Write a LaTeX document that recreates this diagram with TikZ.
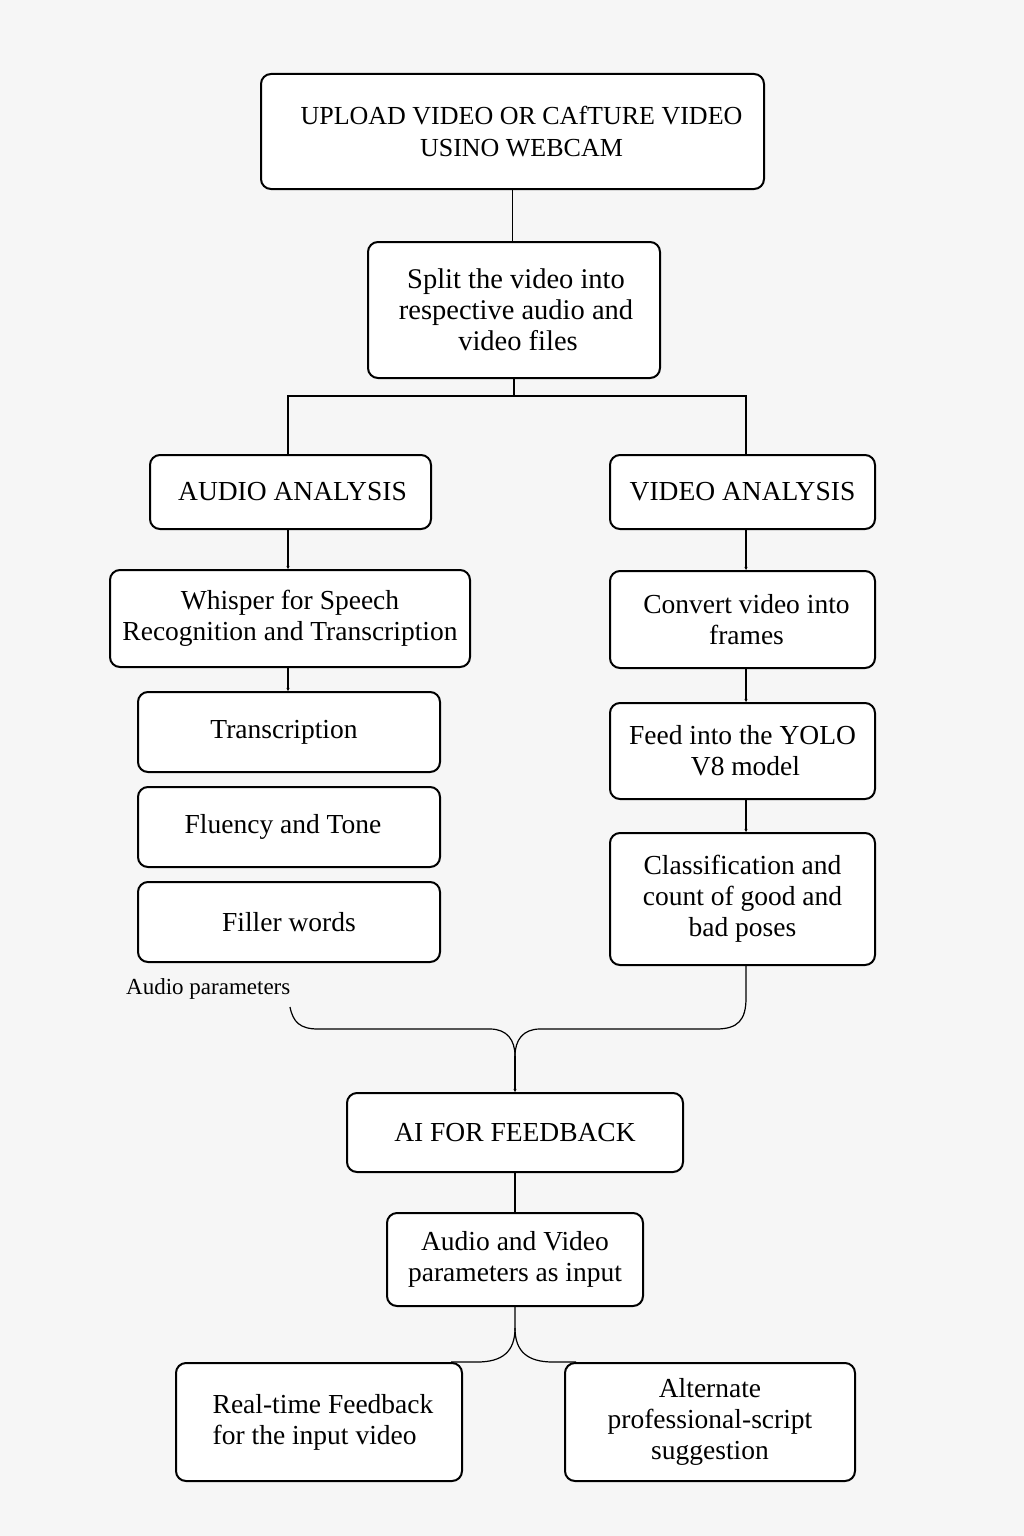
\documentclass[tikz,border=0pt]{standalone}
\usepackage{fontspec}
\setmainfont{Liberation Serif}
\usetikzlibrary{arrows.meta,calc}
\definecolor{bgcol}{HTML}{F6F6F6}
\begin{document}
\begin{tikzpicture}[x=1pt,y=-1pt,
  box/.style={draw=black, fill=white, line width=2pt, rounded corners=10pt,
    align=center, inner sep=2pt, font=\fontsize{27.5}{31}\selectfont},
  conn/.style={line width=1.2pt, draw=black},
  tip/.style={conn, -{Stealth[length=3pt,width=3pt]}}]
\fill[bgcol] (0,0) rectangle (1024,1536);
\useasboundingbox (0,0) rectangle (1024,1536);

\node[box, font=\fontsize{26}{32}\selectfont, minimum width=503pt, minimum height=115pt] (top) at (512.5,131.5)
  {\hspace*{18pt}UPLOAD VIDEO OR CAfTURE VIDEO\\\hspace*{18pt}USINO WEBCAM};
\node[box, font=\fontsize{28.5}{31}\selectfont, minimum width=292pt, minimum height=136pt] (split) at (514,310)
  {\hspace*{4pt}Split the video into\\\hspace*{4pt}respective audio and\\\hspace*{8pt}video files};

\node[box, minimum width=281pt, minimum height=74pt] (audio) at (290.5,492) {\hspace*{4pt}AUDIO ANALYSIS};
\node[box, minimum width=265pt, minimum height=74pt] (video) at (742.5,492) {VIDEO ANALYSIS};

\node[box, minimum width=360pt, minimum height=97pt] (whisper) at (290,618.5)
  {Whisper for Speech\\Recognition and Transcription};
\node[box, minimum width=302pt, minimum height=80pt] (trans) at (289,732) {\hspace*{-10pt}Transcription};
\node[box, minimum width=302pt, minimum height=80pt] (fluency) at (289,827) {\hspace*{-12pt}Fluency and Tone};
\node[box, minimum width=302pt, minimum height=80pt] (filler) at (289,922) {Filler words};
\node[font=\fontsize{23}{26}\selectfont, anchor=west, inner sep=0pt] (aplabel) at (126,989) {Audio parameters};

\node[box, minimum width=265pt, minimum height=97pt] (convert) at (742.5,619.5)
  {\hspace*{8pt}Convert video into\\\hspace*{8pt}frames};
\node[box, minimum width=265pt, minimum height=96pt] (feed) at (742.5,751)
  {Feed into the YOLO\\\hspace*{6pt}V8 model};
\node[box, minimum width=265pt, minimum height=132pt] (classif) at (742.5,899)
  {Classification and\\count of good and\\bad poses};

\node[box, minimum width=336pt, minimum height=79pt] (ai) at (515,1132.5) {AI FOR FEEDBACK};
\node[box, minimum width=256pt, minimum height=93pt] (avp) at (515,1259.5)
  {Audio and Video\\parameters as input};

\node[box, minimum width=286pt, minimum height=118pt, align=left] (rt) at (319,1422)
  {\hspace*{8pt}Real-time Feedback\\\hspace*{8pt}for the input video};
\node[box, minimum width=290pt, minimum height=118pt] (alt) at (710,1422)
  {Alternate\\professional-script\\suggestion};

% connectors
\draw[conn] (top.south) -- (top.south |- split.north);
\coordinate (j1) at (514,396);
\draw[conn] (split.south) -- (j1);
\draw[conn] (j1) -| ($(audio.north)+(-2.5,0)$);
\draw[conn] (j1) -| ($(video.north)+(3.5,0)$);

\draw[tip] ($(audio.south)+(-2.5,0)$) -- ($(audio.south |- whisper.north)+(-2.5,0)$);
\draw[tip] ($(whisper.south)+(-2,0)$) -- ($(whisper.south |- trans.north)+(-2,0)$);

\draw[tip] ($(video.south)+(3.5,0)$) -- ($(video.south |- convert.north)+(3.5,0)$);
\draw[tip] ($(convert.south)+(3.5,0)$) -- ($(convert.south |- feed.north)+(3.5,0)$);
\draw[tip] ($(feed.south)+(3.5,0)$) -- ($(feed.south |- classif.north)+(3.5,0)$);

% merge
\coordinate (apstart) at (290,1007);
\coordinate (m) at (515,1056);
\draw[conn] (apstart) .. controls (293,1022) and (300,1029) .. (318,1029) -- (490,1029)
  .. controls (507,1029) and (515,1040) .. (m);
\draw[conn] ($(classif.south)+(3.5,0)$) -- (746,998) .. controls (746,1020) and (738,1029) .. (716,1029)
  -- (540,1029) .. controls (523,1029) and (515,1040) .. (m);
\draw[tip] (m) -- (ai.north);

\draw[conn] (ai.south) -- (avp.north);

% bottom split
\coordinate (s) at (515,1328);
\draw[conn] (avp.south) -- (s) .. controls (515,1352) and (502,1362) .. (477,1362)
  -- ($(rt.north east)+(-12,0)$);
\draw[conn] (s) .. controls (515,1352) and (528,1362) .. (553,1362)
  -- ($(alt.north west)+(12,0)$);
\end{tikzpicture}
\end{document}
